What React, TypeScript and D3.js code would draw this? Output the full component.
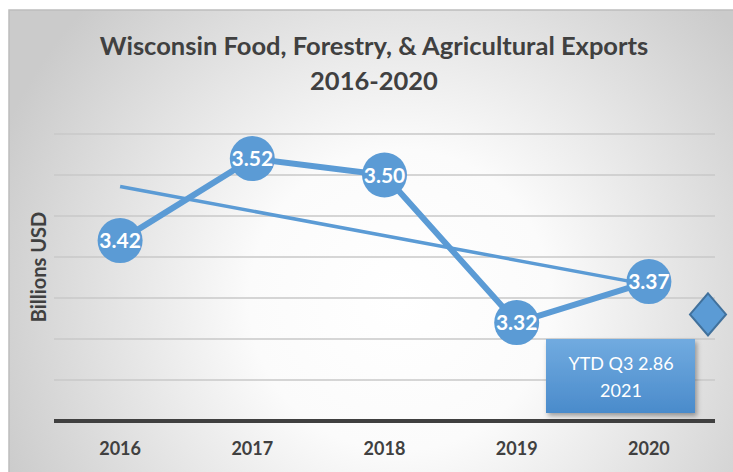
import React from "react";
import * as d3 from "d3";

const years = ["2016", "2017", "2018", "2019", "2020"];
const values = [3.42, 3.52, 3.5, 3.32, 3.37];
const labels = ["3.42", "3.52", "3.50", "3.32", "3.37"];
const yDomain = [3.2, 3.55];
const ytdLines = ["YTD Q3 2.86", "2021"];
const diamondValue = 3.33;

const W = 733;
const H = 472;
const BLUE = "#5b9bd5";
const FONT = "Lato, 'Open Sans', sans-serif";

export default function App() {
  const x = d3.scaleBand().domain(years).range([54, 715]);
  const cx = (d: string) => (x(d) as number) + x.bandwidth() / 2;
  const y = d3.scaleLinear().domain(yDomain).range([421, 134]);
  const ticks = y.ticks(7);

  const pts: [number, number][] = years.map((d, i) => [cx(d), y(values[i])]);
  const line = d3.line();

  // linear trend line (least squares)
  const idx = years.map((_, i) => i);
  const mx = d3.mean(idx) as number;
  const my = d3.mean(values) as number;
  const slope =
    (d3.sum(idx, (i) => (i - mx) * (values[i] - my)) as number) /
    (d3.sum(idx, (i) => (i - mx) * (i - mx)) as number);
  const trend = (i: number) => my + slope * (i - mx);
  const trendPts: [number, number][] = [
    [cx(years[0]), y(trend(0))],
    [cx(years[years.length - 1]), y(trend(years.length - 1))],
  ];

  const dx = 708;
  const dy = y(diamondValue);
  const diamond = `M${dx},${dy - 21}L${dx + 18},${dy}L${dx},${dy + 21}L${dx - 18},${dy}Z`;

  return (
    <svg
      width={W}
      height={H}
      style={{ position: "absolute", left: 0, top: 0 }}
      fontFamily={FONT}
    >
      <defs>
        <radialGradient id="bg" cx="400" cy="300" r="430" gradientUnits="userSpaceOnUse">
          <stop offset="0" stopColor="#ffffff" />
          <stop offset="0.35" stopColor="#fbfbfb" />
          <stop offset="1" stopColor="#cbcbcb" />
        </radialGradient>
        <linearGradient id="box" x1="0" y1="0" x2="0" y2="1">
          <stop offset="0" stopColor="#71abe0" />
          <stop offset="1" stopColor="#4a8bcb" />
        </linearGradient>
        <filter id="sh" x="-20%" y="-20%" width="150%" height="150%">
          <feDropShadow dx="2" dy="3" stdDeviation="2.5" floodColor="#000" floodOpacity="0.35" />
        </filter>
      </defs>
      <rect x={0} y={0} width={W} height={H} fill="#ffffff" />
      <rect x={9} y={10} width={W} height={H} fill="url(#bg)" stroke="#bdbdbd" strokeWidth={1.5} />

      <text x={374} y={55} textAnchor="middle" fontSize={25.5} fontWeight="bold" fill="#404040">
        Wisconsin Food, Forestry, &amp; Agricultural Exports
      </text>
      <text x={374} y={90} textAnchor="middle" fontSize={25.5} fontWeight="bold" fill="#404040">
        2016-2020
      </text>

      {ticks.slice(1).map((t) => (
        <line key={t} x1={54} x2={715} y1={y(t)} y2={y(t)} stroke="#c8c8c8" strokeWidth={1.5} />
      ))}
      <line x1={54} x2={715} y1={y(yDomain[0])} y2={y(yDomain[0])} stroke="#404040" strokeWidth={4} />

      <text
        transform={`translate(46,267) rotate(-90)`}
        textAnchor="middle"
        fontSize={20}
        fontWeight="bold"
        fill="#404040"
      >
        Billions USD
      </text>

      {years.map((d) => (
        <text key={d} x={cx(d)} y={455} textAnchor="middle" fontSize={18} fontWeight="bold" fill="#404040">
          {d}
        </text>
      ))}

      <path d={line(trendPts) as string} stroke={BLUE} strokeWidth={3.5} fill="none" />
      <path d={line(pts) as string} stroke={BLUE} strokeWidth={6} fill="none" strokeLinejoin="round" />

      {pts.map(([px, py], i) => (
        <g key={years[i]}>
          <circle cx={px} cy={py} r={22.5} fill={BLUE} />
          <text x={px} y={py + 7.5} textAnchor="middle" fontSize={21} fontWeight="bold" fill="#ffffff">
            {labels[i]}
          </text>
        </g>
      ))}

      <path d={diamond} fill={BLUE} stroke="#41719c" strokeWidth={2} />

      <g filter="url(#sh)">
        <rect x={546} y={339} width={149} height={74} fill="url(#box)" />
      </g>
      {ytdLines.map((t, i) => (
        <text key={t} x={621} y={370 + i * 27} textAnchor="middle" fontSize={18} fill="#ffffff">
          {t}
        </text>
      ))}
    </svg>
  );
}
